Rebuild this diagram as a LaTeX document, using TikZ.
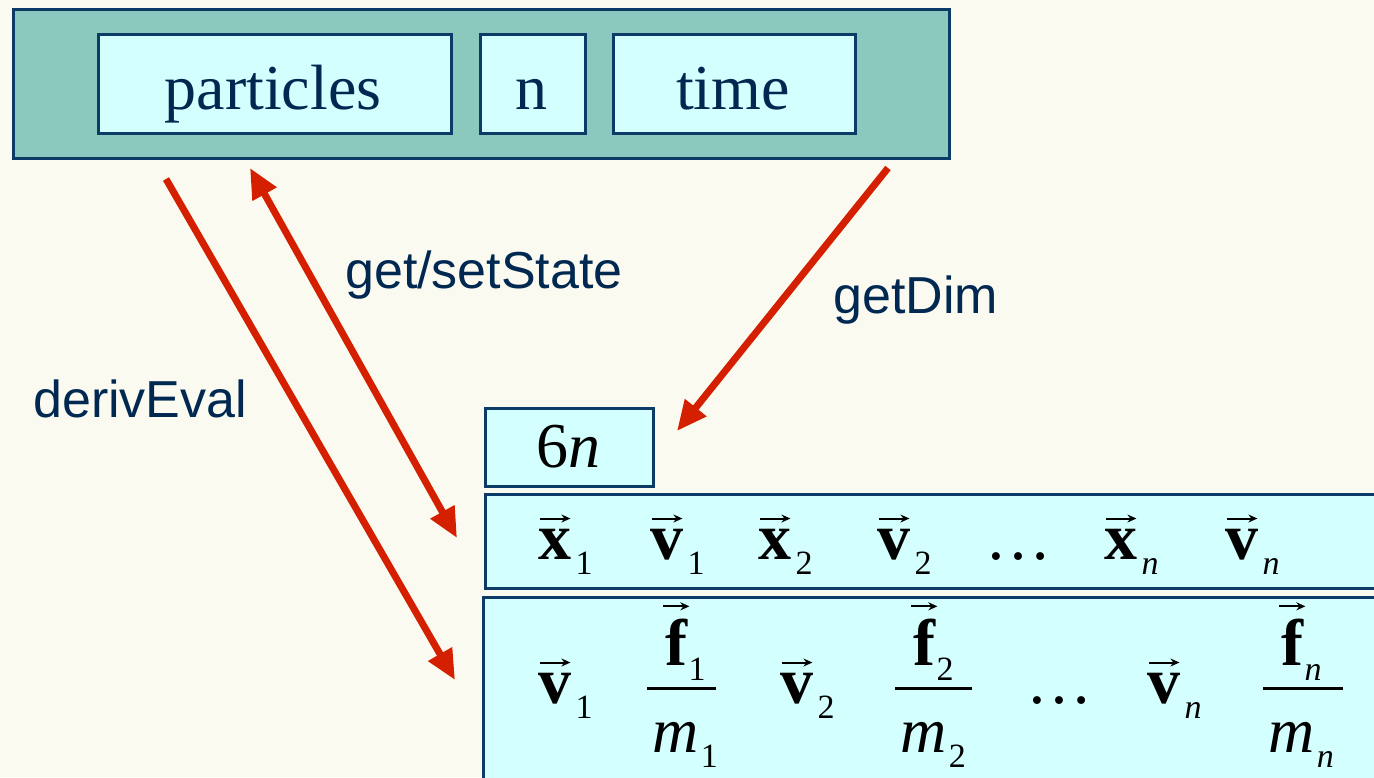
\documentclass[tikz,border=0pt]{standalone}
\usepackage{fontspec}
\setmainfont{Liberation Serif}
\setsansfont{Liberation Sans}
\usetikzlibrary{arrows.meta}
\definecolor{bgcream}{HTML}{FBFAF1}
\definecolor{boxteal}{HTML}{8BC8BE}
\definecolor{boxcyan}{HTML}{D4FFFF}
\definecolor{navyline}{HTML}{0B3B66}
\definecolor{navytext}{HTML}{002850}
\definecolor{arrred}{HTML}{D42000}
\tikzset{
 box/.style={draw=navyline, line width=3pt, fill=boxcyan, inner sep=0pt, anchor=north west},
 outerbox/.style={box, fill=boxteal},
 serif/.style={text=navytext, font=\fontsize{64}{70}\selectfont, inner sep=0pt, anchor=base},
 lbl/.style={text=navytext, font=\sffamily\fontsize{52}{60}\selectfont, inner sep=0pt, anchor=base west},
 redarr/.style={draw=arrred, line width=7pt},
 mletter/.style={inner sep=0pt, anchor=base west, font=\fontsize{66}{70}\selectfont\bfseries},
 mital/.style={inner sep=0pt, anchor=base west, font=\fontsize{64}{70}\selectfont\itshape},
 mreg/.style={inner sep=0pt, anchor=base west, font=\fontsize{66}{70}\selectfont},
 msub/.style={inner sep=0pt, anchor=base west, font=\fontsize{34}{40}\selectfont},
 vecarr/.style={line width=2pt, -{Stealth[length=9pt,width=8pt]}},
 fracbar/.style={line width=3pt},
}
\newcommand\vitem[5]{%
 \node[mletter] (#1) at (#2,#3) {#4};
 \draw[vecarr] ([xshift=2pt,yshift=10pt]#1.north west) -- ([xshift=-1pt,yshift=10pt]#1.north east);
 \node[msub] (#1s) at ([xshift=4pt,yshift=-15pt]#1.base east) {#5};
}
\newcommand\fitem[4]{%
 \draw[fracbar] (#2,688) -- (#3,688);
 \node[mletter] (#1f) at (#2+18,665) {f};
 \draw[vecarr] ([xshift=-2pt,yshift=12pt]#1f.north west) -- ([xshift=2pt,yshift=12pt]#1f.north east);
 \node[msub] (#1fs) at ([xshift=1pt,yshift=-15pt]#1f.base east) {#4};
 \node[mital] (#1m) at (#2+5,752) {m};
 \node[msub] (#1ms) at ([xshift=2pt,yshift=-15pt]#1m.base east) {#4};
}
\begin{document}
\begin{tikzpicture}[x=1pt,y=-1pt]
\useasboundingbox (0,0) rectangle (1374,777);
\clip (0,0) rectangle (1374,777);
\fill[bgcream] (0,0) rectangle (1374,777);

% top structure
\node[outerbox, minimum width=936pt, minimum height=149pt] (outer) at (12,8) {};
\node[box, minimum width=353pt, minimum height=99pt] (pbox) at (97,33) {};
\node[box, minimum width=105pt, minimum height=99pt] (nbox) at (479,33) {};
\node[box, minimum width=242pt, minimum height=99pt] (tbox) at (612,33) {};
\node[serif] (ptext) at (273,109) {particles};
\node[serif] (ntext) at (531,109) {n};
\node[serif] (ttext) at (733,109) {time};

% state boxes
\node[box, minimum width=168pt, minimum height=78pt] (dimbox) at (484,407) {};
\node[serif, text=black] (dimtext) at (568,467) {6\textit{n}};
\node[box, minimum width=950pt, minimum height=94pt] (row1) at (484,493) {};
\node[box, minimum width=950pt, minimum height=220pt] (row2) at (482,596) {};

% row 1
\vitem{xa}{538}{559}{x}{1}
\vitem{va}{650}{559}{v}{1}
\vitem{xb}{758}{559}{x}{2}
\vitem{vb}{877}{559}{v}{2}
\node[mreg] (dots1) at (985,559) {…};
\vitem{xn}{1104}{559}{x}{\itshape n}
\vitem{vn}{1225}{559}{v}{\itshape n}

% row 2
\vitem{wa}{538}{703}{v}{1}
\fitem{fa}{647}{716}{1}
\vitem{wb}{780}{703}{v}{2}
\fitem{fb}{895}{972}{2}
\node[mreg] (dots2) at (1026,703) {…};
\vitem{wn}{1147}{703}{v}{\itshape n}
\fitem{fn}{1263}{1343}{\itshape n}

% connectors
\coordinate (dA) at (166,179);
\coordinate (dB) at (455,680);
\coordinate (gA) at (250,168);
\coordinate (gB) at (457,538);
\coordinate (mA) at (888,168);
\coordinate (mB) at (677,431);
\draw[redarr, arrows={-Triangle[length=30pt,width=26pt]}] (dA) -- (dB);
\draw[redarr, arrows={Triangle[length=30pt,width=26pt]-Triangle[length=30pt,width=26pt]}] (gA) -- (gB);
\draw[redarr, arrows={-Triangle[length=30pt,width=26pt]}] (mA) -- (mB);

% labels
\node[lbl] (lget) at (345,288) {get/setState};
\node[lbl] (ldim) at (833,313) {getDim};
\node[lbl] (lder) at (33,417) {derivEval};
\end{tikzpicture}
\end{document}
